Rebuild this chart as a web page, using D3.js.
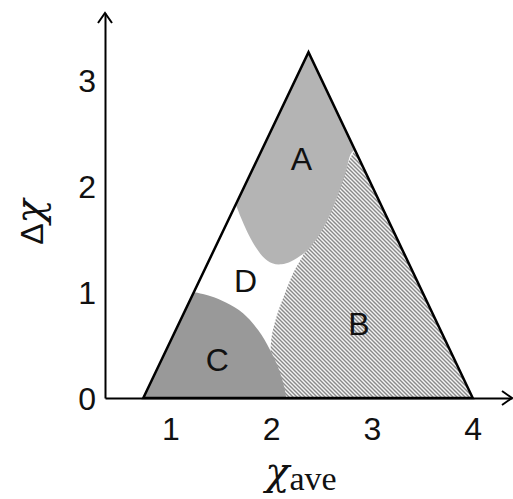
<!DOCTYPE html>
<html>
<head>
<meta charset="utf-8">
<script src="https://cdn.jsdelivr.net/npm/d3@7"></script>
<style>
  html, body { margin: 0; padding: 0; background: #fff; }
  svg { display: block; }
</style>
</head>
<body>
<svg id="chart" width="513" height="499"></svg>
<script>
// Bond-type triangle: average electronegativity vs electronegativity difference.

// Triangle corners (χ_ave, Δχ)
const triangle = [[0.73, 0], [2.37, 3.26], [4.0, 0]];

// Region A (upper cap): boundary curve from left edge to right edge
const regionACurve = [
  [1.65, 1.82], [1.70, 1.70], [1.76, 1.57], [1.84, 1.43], [1.92, 1.33],
  [2.01, 1.27], [2.10, 1.26], [2.20, 1.29], [2.33, 1.37], [2.45, 1.50],
  [2.56, 1.68], [2.66, 1.91], [2.74, 2.13], [2.79, 2.30], [2.83, 2.34]
];

// Region B (hatched): left boundary from right edge down to the baseline
const regionBCurve = [
  [2.83, 2.34], [2.74, 2.17], [2.66, 1.94], [2.55, 1.73], [2.43, 1.53],
  [2.32, 1.35], [2.22, 1.18], [2.13, 0.97], [2.05, 0.76], [2.00, 0.55],
  [2.00, 0.36], [2.05, 0.17], [2.15, 0]
];

// Region C (lower left): boundary curve from left edge to the baseline
const regionCCurve = [
  [1.23, 1.00], [1.40, 0.96], [1.55, 0.90], [1.72, 0.80], [1.87, 0.64],
  [1.99, 0.45], [2.08, 0.26], [2.13, 0.10], [2.15, 0]
];

// Region labels with anchor points (χ_ave, Δχ)
const regionNames = ["A", "B", "C", "D"];
const labelAnchors = [[2.30, 2.26], [2.87, 0.70], [1.465, 0.36], [1.745, 1.11]];

// Axis ticks
const xTicks = [1, 2, 3, 4];
const yTicks = [0, 1, 2, 3];

const svg = d3.select("#chart");

const x = d3.scaleLinear().domain([0.35, 4.39]).range([105, 512]);
const y = d3.scaleLinear().domain([0, 3.63]).range([398, 13]);

const pt = d => [x(d[0]), y(d[1])];

// Hatch pattern for region B
const defs = svg.append("defs");
const pat = defs.append("pattern")
  .attr("id", "hatch")
  .attr("patternUnits", "userSpaceOnUse")
  .attr("width", 4).attr("height", 4);
pat.append("rect").attr("width", 4).attr("height", 4).attr("fill", "#f4f4f4");
pat.append("path")
  .attr("d", "M-1,-1 L5,5 M-1,3 L1,5 M3,-1 L5,1")
  .attr("stroke", "#8a8a8a")
  .attr("stroke-width", 1.4);

const smooth = d3.line().x(d => x(d[0])).y(d => y(d[1])).curve(d3.curveCatmullRom.alpha(0.5));

// Region B: hatched, bounded by curve, baseline and right edge
svg.append("path")
  .attr("d", smooth(regionBCurve) + "L" + pt(triangle[2]).join(",") + "Z")
  .attr("fill", "url(#hatch)");

// Region A: light grey cap under the apex
svg.append("path")
  .attr("d", smooth(regionACurve) + "L" + pt(triangle[1]).join(",") + "Z")
  .attr("fill", "#b4b4b4");

// Region C: dark grey corner at the lower left
svg.append("path")
  .attr("d", smooth(regionCCurve) + "L" + pt(triangle[0]).join(",") + "Z")
  .attr("fill", "#999999");

// Triangle outline
svg.append("path")
  .attr("d", d3.line().x(d => x(d[0])).y(d => y(d[1]))(triangle) + "Z")
  .attr("fill", "none")
  .attr("stroke", "#000")
  .attr("stroke-width", 2.5)
  .attr("stroke-linejoin", "miter");

// Region letters
svg.append("g").selectAll("text")
  .data(regionNames)
  .join("text")
  .attr("x", (d, i) => x(labelAnchors[i][0]))
  .attr("y", (d, i) => y(labelAnchors[i][1]))
  .attr("dy", "0.36em")
  .attr("text-anchor", "middle")
  .attr("font-family", "'Liberation Sans', Arial, sans-serif")
  .attr("font-size", 32)
  .attr("fill", "#111")
  .text(d => d);

// Axes
const axisFont = "'Liberation Sans', Arial, sans-serif";

const gx = svg.append("g")
  .attr("transform", `translate(0,${y(0)})`)
  .call(d3.axisBottom(x).tickValues(xTicks).tickSize(0).tickFormat(d3.format("d")));
gx.select(".domain").attr("stroke", "#000").attr("stroke-width", 2);
gx.selectAll("text")
  .attr("y", 42).attr("dy", 0)
  .attr("font-family", axisFont).attr("font-size", 32).attr("fill", "#111");

const gy = svg.append("g")
  .attr("transform", `translate(${x(0.35)},0)`)
  .call(d3.axisLeft(y).tickValues(yTicks).tickSize(0).tickFormat(d3.format("d")));
gy.select(".domain").attr("stroke", "#000").attr("stroke-width", 2);
gy.selectAll("text")
  .attr("x", -9).attr("dy", "0.36em")
  .attr("font-family", axisFont).attr("font-size", 32).attr("fill", "#111");

// Arrowheads at the ends of both axes
const xEnd = [x.range()[1], y(0)];
const yEnd = [x(0.35), y.range()[1]];
svg.append("path")
  .attr("d", `M${xEnd[0] - 10},${xEnd[1] - 7} L${xEnd[0]},${xEnd[1]} L${xEnd[0] - 10},${xEnd[1] + 7}`)
  .attr("fill", "none").attr("stroke", "#000").attr("stroke-width", 2);
svg.append("path")
  .attr("d", `M${yEnd[0] - 7},${yEnd[1] + 10} L${yEnd[0]},${yEnd[1]} L${yEnd[0] + 7},${yEnd[1] + 10}`)
  .attr("fill", "none").attr("stroke", "#000").attr("stroke-width", 2);

// Axis titles
const chiFont = "'DejaVu Serif', 'Liberation Serif', serif";

const xt = svg.append("text")
  .attr("x", 301).attr("y", 485)
  .attr("text-anchor", "middle")
  .attr("fill", "#111");
xt.append("tspan")
  .attr("font-family", chiFont)
  .attr("font-style", "italic").attr("font-size", 40)
  .text("χ");
xt.append("tspan")
  .attr("font-family", "'Liberation Serif', 'Times New Roman', serif")
  .attr("font-size", 34).attr("dy", 5)
  .text("ave");

const yt = svg.append("text")
  .attr("transform", "translate(43,222) rotate(-90)")
  .attr("text-anchor", "middle")
  .attr("fill", "#111");
yt.append("tspan")
  .attr("font-family", "'Liberation Sans', Arial, sans-serif")
  .attr("font-size", 32)
  .text("Δ");
yt.append("tspan")
  .attr("font-family", chiFont)
  .attr("font-style", "italic").attr("font-size", 40)
  .text("χ");
</script>
</body>
</html>
